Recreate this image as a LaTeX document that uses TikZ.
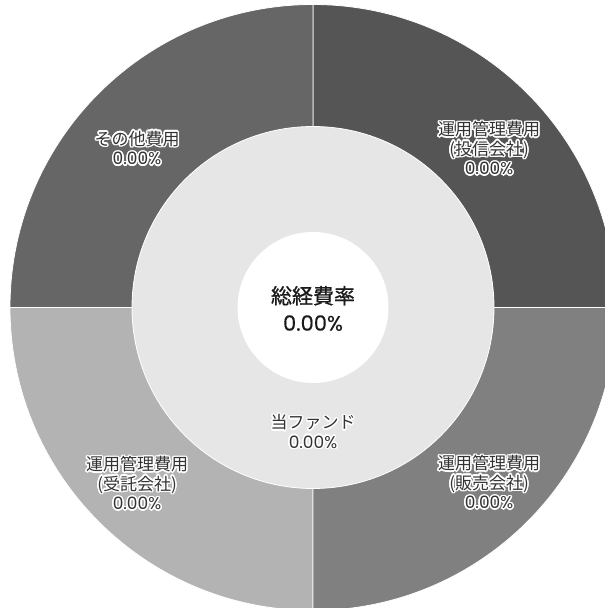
\documentclass[tikz,border=0pt]{standalone}
\usepackage{fontspec}
\setmainfont{Noto Sans CJK JP}
\newfontfamily\numf{Poppins}
\newfontfamily\ctrcjk[FakeBold=0.9]{Noto Sans CJK JP}
\newfontfamily\ctrnum[FakeBold=0.3]{Poppins}
\definecolor{segTL}{HTML}{666666}
\definecolor{segTR}{HTML}{555555}
\definecolor{segBR}{HTML}{808080}
\definecolor{segBL}{HTML}{B3B3B3}
\definecolor{ringmid}{HTML}{E6E6E6}
\definecolor{labeltext}{HTML}{333333}
\definecolor{centertext}{HTML}{1A1A1A}
\newcommand\hl[1]{\foreach \ang in {0,22.5,...,337.5}{\pgfmathsetlengthmacro\hdx{1.5pt*cos(\ang)}\pgfmathsetlengthmacro\hdy{1.5pt*sin(\ang)}\rlap{\hspace*{\hdx}\raisebox{\hdy}{\color{white}#1}}}#1}
\newcommand\pct{{\numf 0.00\%}}
\tikzset{
  seg/.style={draw=white, line width=0.8pt},
  lbl/.style={align=center, inner sep=0pt, text=labeltext, font=\fontsize{17}{19.5}\selectfont},
  ctr/.style={align=center, inner sep=0pt, text=centertext, font=\fontsize{21}{27}\selectfont}
}
\begin{document}
\begin{tikzpicture}[x=1pt,y=1pt]
\useasboundingbox (0,0) rectangle (605,608);
\clip (0,0) rectangle (605,608);
\coordinate (C) at (313,300.5);
\fill[white] (0,0) rectangle (605,608);
\filldraw[seg, fill=segTR] (C) -- ++(0:303) arc[start angle=0, end angle=90, radius=303] -- cycle;
\filldraw[seg, fill=segTL] (C) -- ++(90:303) arc[start angle=90, end angle=180, radius=303] -- cycle;
\filldraw[seg, fill=segBL] (C) -- ++(180:303) arc[start angle=180, end angle=270, radius=303] -- cycle;
\filldraw[seg, fill=segBR] (C) -- ++(270:303) arc[start angle=270, end angle=360, radius=303] -- cycle;
\filldraw[seg, fill=ringmid] (C) circle[radius=181];
\fill[white] (C) circle[radius=75.5];
\node[ctr] (total) at (313,299.5) {{\ctrcjk 総経費率}\\{\ctrnum 0.00\%}};
\node[lbl] (fund) at (313,176.5) {\hl{当ファンド}\\\hl{\pct}};
\node[lbl] (other) at (137,460) {\hl{その他費用}\\\hl{\pct}};
\node[lbl] (itaku) at (489,460) {\hl{運用管理費用}\\\hl{(投信会社)}\\\hl{\pct}};
\node[lbl] (hanbai) at (489,126) {\hl{運用管理費用}\\\hl{(販売会社)}\\\hl{\pct}};
\node[lbl] (jutaku) at (137,125) {\hl{運用管理費用}\\\hl{(受託会社)}\\\hl{\pct}};
\end{tikzpicture}
\end{document}
